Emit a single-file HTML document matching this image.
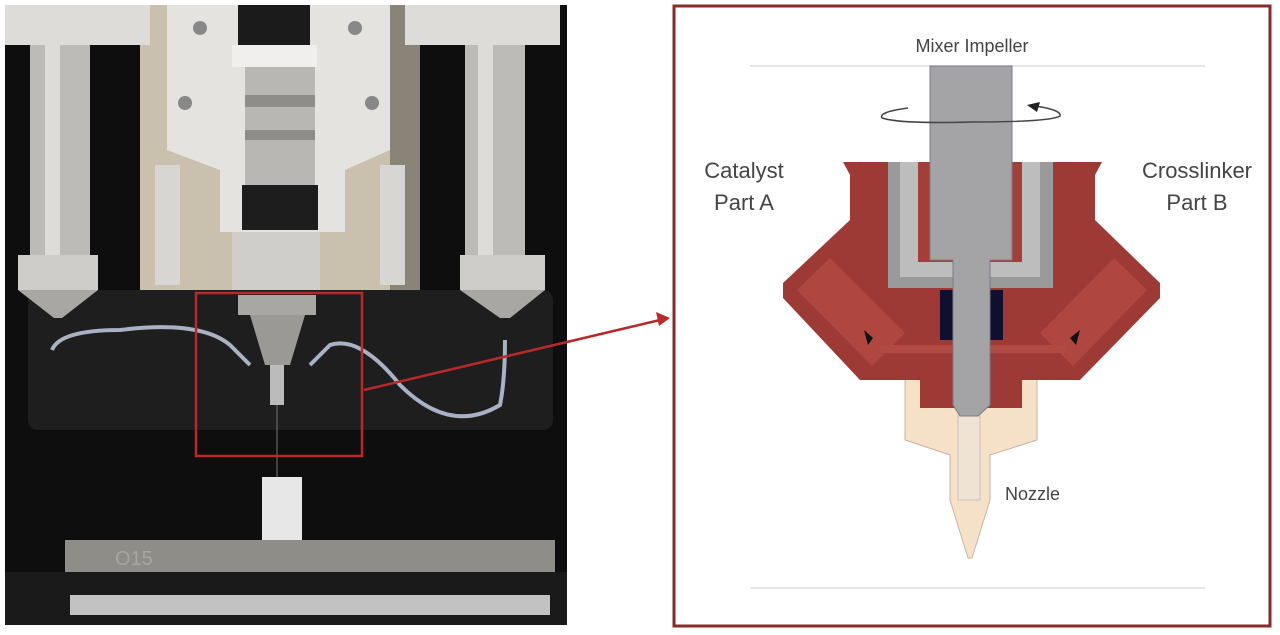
<!DOCTYPE html>
<html><head><meta charset="utf-8"><style>
html,body{margin:0;padding:0;background:#fff;}
body{width:1280px;height:635px;overflow:hidden;position:relative;font-family:"Liberation Sans",sans-serif;}
</style></head><body>
<svg width="1280" height="635" viewBox="0 0 1280 635" xmlns="http://www.w3.org/2000/svg" style="position:absolute;left:0;top:0">
<!-- LEFT PHOTO -->
<rect x="5" y="5" width="562" height="620" fill="#0e0e0e"/>
<rect x="140" y="5" width="265" height="290" fill="#c9c1ae"/>
<rect x="390" y="5" width="30" height="285" fill="#8a8478"/>
<rect x="155" y="165" width="25" height="120" fill="#d8d6d2"/>
<rect x="380" y="165" width="25" height="120" fill="#d8d6d2"/>
<rect x="28" y="290" width="525" height="140" rx="10" fill="#1e1e1e"/>
<!-- plate -->
<path d="M167 5 H390 V150 L345 170 V232 H220 V170 L167 150 Z" fill="#e4e3e0"/>
<rect x="238" y="5" width="72" height="40" fill="#1b1b1b"/>
<rect x="232" y="45" width="85" height="22" fill="#f0efed"/>
<rect x="245" y="67" width="70" height="130" fill="#b9b7b3"/>
<rect x="245" y="95" width="70" height="12" fill="#8f8d89"/>
<rect x="245" y="130" width="70" height="10" fill="#8f8d89"/>
<rect x="242" y="185" width="76" height="45" fill="#1d1d1d"/>
<rect x="232" y="232" width="88" height="58" fill="#cfcecb"/>
<circle cx="200" cy="28" r="7" fill="#888"/><circle cx="355" cy="28" r="7" fill="#888"/>
<circle cx="185" cy="103" r="7" fill="#888"/><circle cx="372" cy="103" r="7" fill="#888"/>
<!-- columns -->
<rect x="5" y="5" width="145" height="40" fill="#dedcd8"/>
<rect x="30" y="45" width="60" height="212" fill="#bdbbb8"/>
<rect x="45" y="45" width="15" height="212" fill="#dddcd9"/>
<rect x="18" y="255" width="80" height="35" fill="#cfcdca"/>
<path d="M18 290 H98 L62 318 H54 Z" fill="#a9a7a3"/>
<rect x="405" y="5" width="155" height="40" fill="#dedcd8"/>
<rect x="465" y="45" width="60" height="212" fill="#bdbbb8"/>
<rect x="478" y="45" width="15" height="212" fill="#dddcd9"/>
<rect x="460" y="255" width="85" height="35" fill="#cfcdca"/>
<path d="M460 290 H545 L510 318 H500 Z" fill="#a9a7a3"/>
<rect x="238" y="295" width="78" height="20" fill="#a8a7a4"/>
<path d="M250 315 H305 L290 365 H265 Z" fill="#9a9996"/>
<rect x="270" y="365" width="14" height="40" fill="#bbb"/>
<line x1="277" y1="405" x2="277" y2="478" stroke="#777" stroke-width="1"/>
<path d="M52 350 Q60 330 120 330 Q200 320 230 345 L250 365" fill="none" stroke="#a9b2c4" stroke-width="4"/>
<path d="M310 365 L330 345 Q360 335 400 385 Q450 435 500 405 Q505 380 505 340" fill="none" stroke="#a9b2c4" stroke-width="4"/>
<rect x="262" y="477" width="40" height="63" fill="#e7e7e7"/>
<rect x="65" y="540" width="490" height="32" fill="#8f8d88"/>
<text x="115" y="565" font-size="20" fill="#a8a6a1" font-family="Liberation Sans, sans-serif">O15</text>
<rect x="5" y="572" width="562" height="53" fill="#1a1a1a"/>
<rect x="70" y="595" width="480" height="20" fill="#c2c2c2"/>
<!-- red box -->
<rect x="196" y="293" width="166" height="163" fill="none" stroke="#b8292b" stroke-width="2.5"/>
<line x1="364" y1="390" x2="660" y2="320" stroke="#b8292b" stroke-width="2.5"/>
<polygon points="670,318 656,312 659,326" fill="#b8292b"/>

<!-- RIGHT PANEL -->
<rect x="674" y="6" width="596" height="620" fill="#fff" stroke="#8b2a2a" stroke-width="3"/>
<line x1="750" y1="66" x2="1205" y2="66" stroke="#ddd" stroke-width="1.5"/>
<line x1="750" y1="588" x2="1205" y2="588" stroke="#ddd" stroke-width="1.5"/>
<text x="972" y="52" font-size="18" fill="#444" text-anchor="middle">Mixer Impeller</text>
<text x="744" y="178" font-size="22" fill="#444" text-anchor="middle">Catalyst</text>
<text x="744" y="210" font-size="22" fill="#444" text-anchor="middle">Part A</text>
<text x="1197" y="178" font-size="22" fill="#444" text-anchor="middle">Crosslinker</text>
<text x="1197" y="210" font-size="22" fill="#444" text-anchor="middle">Part B</text>
<text x="1005" y="500" font-size="18" fill="#444">Nozzle</text>
<!-- nozzle -->
<path d="M905 370 H1037 V440 L990 455 V500 L972 558 H968 L950 500 V455 L905 440 Z" fill="#f5e0c8" stroke="#c9b5a0" stroke-width="1"/>
<rect x="958" y="415" width="22" height="85" fill="#efe3d4" stroke="#bbb" stroke-width="0.8"/>
<!-- red body -->
<path d="M843 162 H1102 L1095 175 V220 L1160 283 V298 L1080 380 H1022 V408 H920 V380 H860 L783 298 V283 L850 220 V175 Z" fill="#9e3a35"/>
<path d="M797 290 L830 258 L905 333 L872 366 Z" fill="#b04640"/>
<path d="M1147 290 L1114 258 L1040 333 L1073 366 Z" fill="#b04640"/>
<rect x="880" y="345" width="185" height="8" fill="#b24a44"/>
<polygon points="873,338 864,330 868,345" fill="#111"/>
<polygon points="1070,338 1080,330 1076,345" fill="#111"/>
<!-- housing -->
<rect x="888" y="162" width="165" height="126" fill="#9a9a9a"/>
<rect x="900" y="162" width="140" height="115" fill="#bdbdbd"/>
<rect x="918" y="162" width="104" height="100" fill="#a23f38"/>
<rect x="940" y="290" width="63" height="50" fill="#0f1030"/>
<!-- shaft -->
<path d="M930 66 H1012 V260 H990 V405 L978 416 H960 L953 405 V260 H930 Z" fill="#a4a4a6" stroke="#7a7a8a" stroke-width="1"/>
<!-- rotation arrow -->
<path d="M908 108 Q878 112 882 118 Q900 124 972 122 Q1050 122 1060 116 Q1062 110 1035 106" fill="none" stroke="#444" stroke-width="1.5"/>
<polygon points="1027,105 1040,102 1037,112" fill="#222"/>
</svg>
</body></html>
